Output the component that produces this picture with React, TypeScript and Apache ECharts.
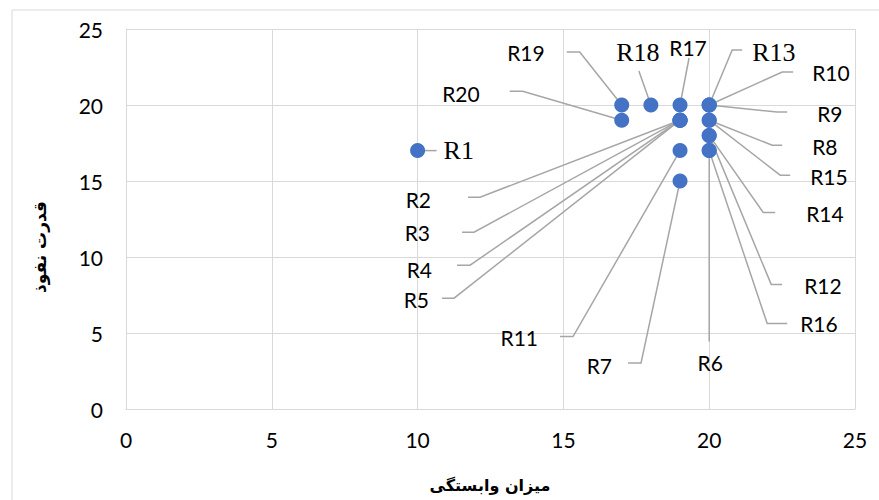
import React, { useEffect, useRef } from 'react';
import * as echarts from 'echarts';

// ---- data ----
const labelNames = [
  'R1', 'R2', 'R3', 'R4', 'R5', 'R6', 'R7', 'R8', 'R9', 'R10',
  'R11', 'R12', 'R13', 'R14', 'R15', 'R16', 'R17', 'R18', 'R19', 'R20',
];
// x: میزان وابستگی
const dependence = [10, 19, 19, 19, 19, 20, 19, 20, 20, 20, 19, 20, 20, 20, 20, 20, 19, 18, 17, 17];
// y: قدرت نفوذ
const influence = [17, 19, 19, 19, 19, 17, 15, 19, 20, 20, 17, 18, 20, 18, 19, 17, 20, 20, 20, 19];

const axisTicks = { min: 0, max: 25, interval: 5 };
const xAxisTitle = 'میزان وابستگی';
const yAxisTitle = 'قدرت نفوذ';

// ---- label layout (pixel offsets from each point) ----
type Align = 'left' | 'right' | 'center';
type LeaderLayout = { path: number[][]; text: number[]; align: Align; serif?: boolean };
const leaderLayouts: LeaderLayout[] = [
  { path: [[19, 0]], text: [26, 0], align: 'left', serif: true }, // R1
  { path: [[-200, 77], [-212, 77]], text: [-249, 79], align: 'right' }, // R2
  { path: [[-206, 112], [-218, 112]], text: [-250, 112], align: 'right' }, // R3
  { path: [[-210, 145], [-223, 145]], text: [-248, 149], align: 'right' }, // R4
  { path: [[-226, 178], [-238, 178]], text: [-251, 179], align: 'right' }, // R5
  { path: [[0, 191]], text: [1, 212], align: 'center' }, // R6
  { path: [[-39, 182], [-52, 182]], text: [-68, 184], align: 'right' }, // R7
  { path: [[63, 25], [73, 25]], text: [103, 26], align: 'left' }, // R8
  { path: [[68, 7], [78, 7]], text: [108, 8], align: 'left' }, // R9
  { path: [[73, -33], [84, -33]], text: [103, -33], align: 'left' }, // R10
  { path: [[-107, 186], [-120, 186]], text: [-142, 187], align: 'right' }, // R11
  { path: [[62, 149], [73, 149]], text: [95, 150], align: 'left' }, // R12
  { path: [[23, -55], [33, -55]], text: [43, -53], align: 'left', serif: true }, // R13
  { path: [[54, 77], [66, 77]], text: [97, 78], align: 'left' }, // R14
  { path: [[71, 55], [81, 55]], text: [101, 56], align: 'left' }, // R15
  { path: [[58, 173], [78, 173]], text: [91, 173], align: 'left' }, // R16
  { path: [[9, -47]], text: [8, -58], align: 'center' }, // R17
  { path: [[-12, -34]], text: [-13, -53], align: 'center', serif: true }, // R18
  { path: [[-42, -53], [-55, -53]], text: [-77, -53], align: 'right' }, // R19
  { path: [[-99, -29], [-112, -29]], text: [-142, -27], align: 'right' }, // R20
];

const points = labelNames.map((n, i) => [dependence[i], influence[i], n]);

export default function App() {
  const ref = useRef<HTMLDivElement>(null);
  useEffect(() => {
    if (!ref.current) return;
    const chart = echarts.init(ref.current, null, { renderer: 'svg' });
    const gridColor = '#d9d9d9';
    const tickFont = { color: '#000', fontFamily: 'Lato', fontSize: 21 };
    chart.setOption({
      animation: false,
      backgroundColor: '#fff',
      grid: { left: 126, right: 24, top: 29, bottom: 91, containLabel: false, outerBoundsMode: 'none' },
      xAxis: {
        type: 'value',
        ...axisTicks,
        axisLine: { show: true, lineStyle: { color: gridColor, width: 1 } },
        axisTick: { show: false },
        splitLine: { show: true, lineStyle: { color: gridColor, width: 1 } },
        axisLabel: { ...tickFont, margin: 20 },
      },
      yAxis: {
        type: 'value',
        ...axisTicks,
        axisLine: { show: true, lineStyle: { color: gridColor, width: 1 } },
        axisTick: { show: false },
        splitLine: { show: true, lineStyle: { color: gridColor, width: 1 } },
        axisLabel: { ...tickFont, margin: 23 },
      },
      graphic: [
        {
          type: 'rect',
          shape: { x: 12, y: 10, width: 900, height: 600 },
          style: { fill: 'none', stroke: gridColor, lineWidth: 1 },
          silent: true,
          z: -1,
        },
        {
          type: 'text',
          x: 490,
          y: 485,
          style: {
            text: xAxisTitle,
            font: 'bold 16px "DejaVu Sans"',
            fill: '#000',
            align: 'center',
            verticalAlign: 'middle',
            textAlign: 'center',
            textVerticalAlign: 'middle',
          },
        },
        {
          type: 'text',
          x: 40,
          y: 247,
          rotation: Math.PI / 2,
          style: {
            text: yAxisTitle,
            font: 'bold 17px "DejaVu Sans"',
            fill: '#000',
            align: 'center',
            verticalAlign: 'middle',
            textAlign: 'center',
            textVerticalAlign: 'middle',
          },
        },
      ],
      series: [
        {
          type: 'custom',
          z: 2,
          clip: false,
          data: points,
          renderItem: (params: any, api: any) => {
            const i = params.dataIndex;
            const p = api.coord([api.value(0), api.value(1)]);
            const lay = leaderLayouts[i];
            const pts = [p, ...lay.path.map((d) => [p[0] + d[0], p[1] + d[1]])];
            const font = lay.serif ? '26px "Liberation Serif"' : '21px Lato';
            return {
              type: 'group',
              children: [
                {
                  type: 'polyline',
                  shape: { points: pts },
                  style: { stroke: '#a6a6a6', lineWidth: 1.5, fill: null },
                },
                {
                  type: 'text',
                  x: p[0] + lay.text[0],
                  y: p[1] + lay.text[1],
                  style: {
                    text: labelNames[i],
                    font,
                    fill: '#000',
                    align: lay.align,
                    verticalAlign: 'middle',
                    textAlign: lay.align,
                    textVerticalAlign: 'middle',
                  },
                },
              ],
            };
          },
        },
        {
          type: 'scatter',
          z: 3,
          data: points,
          symbol: 'circle',
          symbolSize: 15,
          itemStyle: { color: '#4472c4', opacity: 1 },
        },
      ],
    });
    return () => chart.dispose();
  }, []);
  return (
    <div
      ref={ref}
      style={{ position: 'fixed', left: 0, top: 0, width: 879, height: 500 }}
    />
  );
}
